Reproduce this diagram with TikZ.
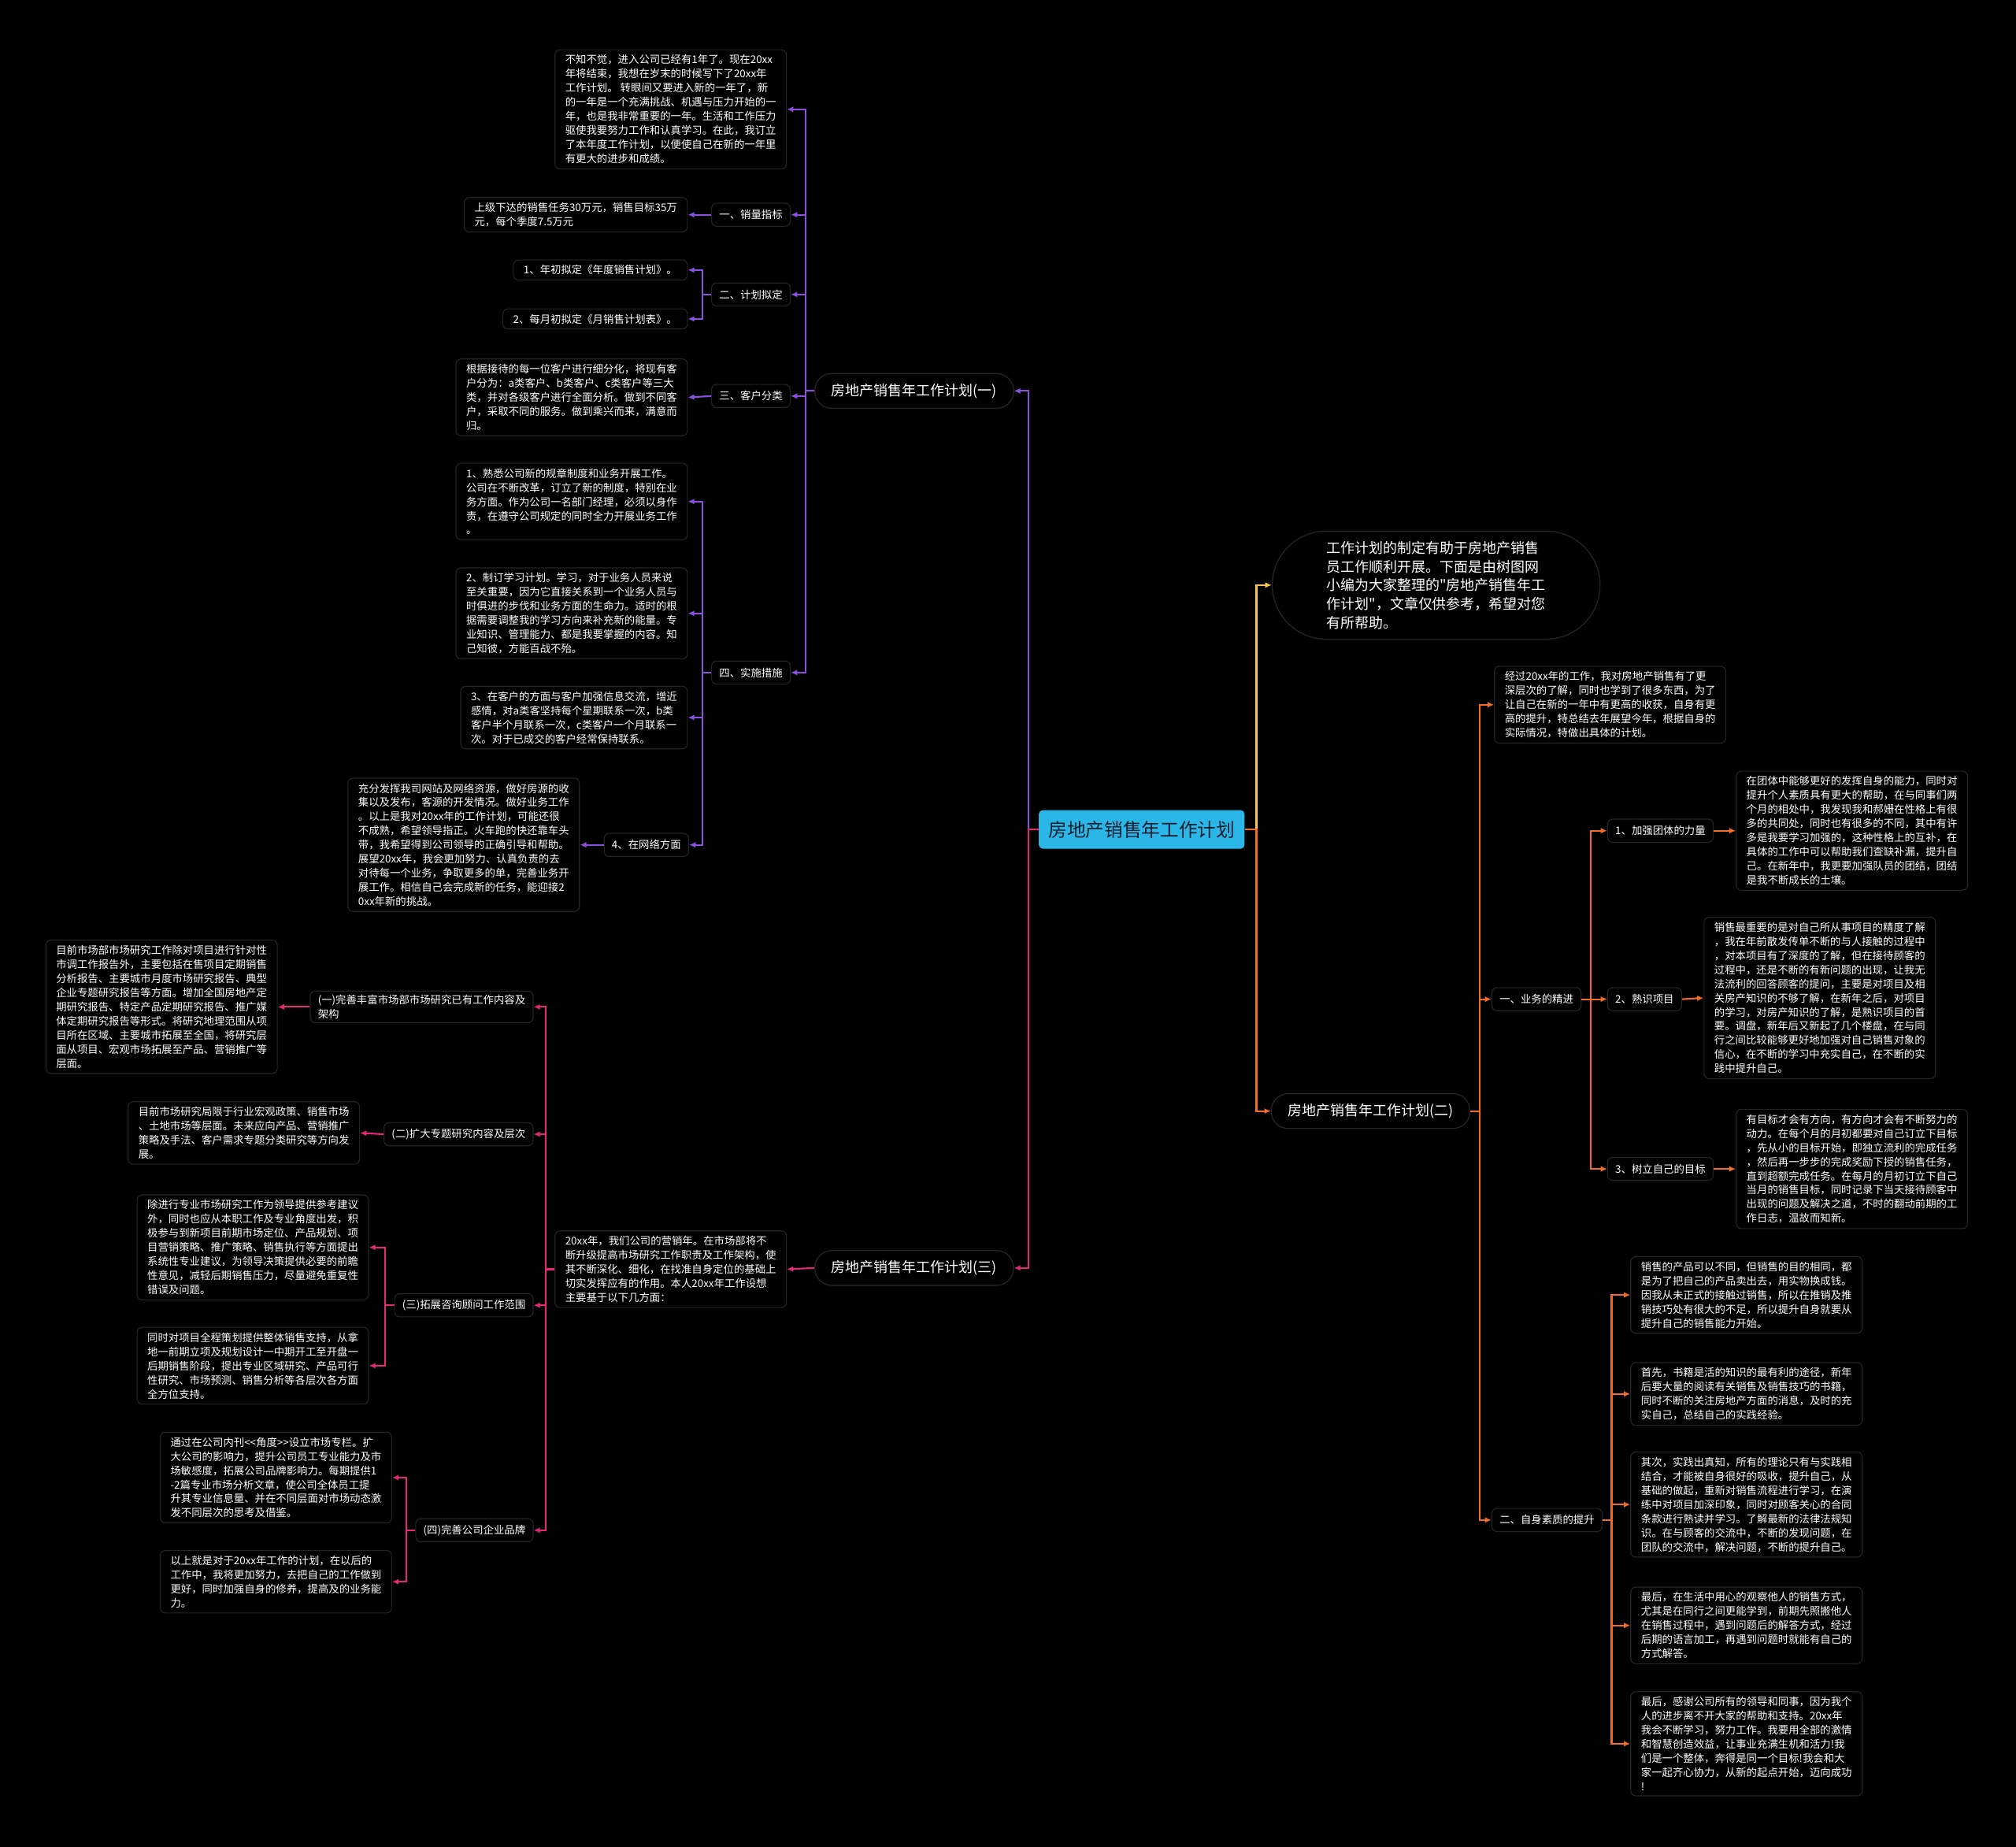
\documentclass[tikz,border=0pt]{standalone}
\usepackage{fontspec}
\setmainfont{Noto Sans CJK SC}
\newfontfamily\rawfont{Noto Sans CJK SC}[Ligatures=TeXOff]
\usetikzlibrary{arrows.meta}
\definecolor{bgc}{RGB}{0,0,0}
\definecolor{bord}{RGB}{36,36,36}
\definecolor{purc}{RGB}{140,80,225}
\definecolor{pinkc}{RGB}{228,40,118}
\definecolor{yelc}{RGB}{245,200,80}
\definecolor{orac}{RGB}{242,108,40}
\definecolor{rootc}{RGB}{43,182,232}
\definecolor{roottext}{RGB}{20,30,45}
\begin{document}
\begin{tikzpicture}[x=1pt,y=-1pt,
  txt/.style={draw=bord,fill=black,rounded corners=4pt,text=white,align=left,
    font=\fontsize{8.2}{11}\selectfont,inner xsep=8pt,inner ysep=4pt,line width=0.7pt},
  lbl/.style={draw=bord,fill=black,rounded corners=4pt,text=white,align=left,
    font=\fontsize{8.2}{11}\selectfont,inner xsep=6pt,inner ysep=3pt,minimum height=18pt,line width=0.7pt},
  branch/.style={draw=bord,fill=black,rounded corners=13pt,text=white,
    font=\fontsize{11}{13}\selectfont,inner xsep=13pt,minimum height=27pt,line width=0.8pt},
  rootbox/.style={fill=rootc,rounded corners=3pt,text=roottext,
    font=\fontsize{14.5}{17}\selectfont,minimum width=160pt,minimum height=30pt},
  introbox/.style={draw=bord,fill=black,rounded corners=42pt,text=white,align=left,
    font=\rawfont\fontsize{11}{14.5}\selectfont,minimum width=255pt,minimum height=84pt,line width=0.8pt},
  con/.style={line width=1.3pt,-{Latex[length=5pt,width=4.5pt]}},
  pur/.style={con,draw=purc},
  pnk/.style={con,draw=pinkc},
  yel/.style={con,draw=yelc},
  ora/.style={con,draw=orac}
]
\path[fill=bgc] (0,0) rectangle (1568,1436);

% root
\node[rootbox] (root) at (888,645) {房地产销售年工作计划};

% ===== branch (一) =====
\node[branch] (b1) at (711,304) {房地产销售年工作计划(一)};
\node[txt,anchor=east] (a1) at (612,85) {不知不觉，进入公司已经有1年了。现在20xx\\年将结束，我想在岁末的时候写下了20xx年\\工作计划。 转眼间又要进入新的一年了，新\\的一年是一个充满挑战、机遇与压力开始的一\\年，也是我非常重要的一年。生活和工作压力\\驱使我要努力工作和认真学习。在此，我订立\\了本年度工作计划，以便使自己在新的一年里\\有更大的进步和成绩。};
\node[lbl,anchor=east] (l1) at (615,167) {一、销量指标};
\node[txt,anchor=east] (t1) at (535,167) {上级下达的销售任务30万元，销售目标35万\\元，每个季度7.5万元};
\node[lbl,anchor=east] (l2) at (615,229) {二、计划拟定};
\node[txt,anchor=east] (t2a) at (535,210) {1、年初拟定《年度销售计划》。};
\node[txt,anchor=east] (t2b) at (535,248) {2、每月初拟定《月销售计划表》。};
\node[lbl,anchor=east] (l3) at (615,308) {三、客户分类};
\node[txt,anchor=east] (t3) at (535,309) {根据接待的每一位客户进行细分化，将现有客\\户分为：a类客户、b类客户、c类客户等三大\\类，并对各级客户进行全面分析。做到不同客\\户，采取不同的服务。做到乘兴而来，满意而\\归。};
\node[lbl,anchor=east] (l4) at (615,523) {四、实施措施};
\node[txt,anchor=east] (t4a) at (535,390) {1、熟悉公司新的规章制度和业务开展工作。\\公司在不断改革，订立了新的制度，特别在业\\务方面。作为公司一名部门经理，必须以身作\\责，在遵守公司规定的同时全力开展业务工作\\。};
\node[txt,anchor=east] (t4b) at (535,477) {2、制订学习计划。学习，对于业务人员来说\\至关重要，因为它直接关系到一个业务人员与\\时俱进的步伐和业务方面的生命力。适时的根\\据需要调整我的学习方向来补充新的能量。专\\业知识、管理能力、都是我要掌握的内容。知\\己知彼，方能百战不殆。};
\node[txt,anchor=east] (t4c) at (535,558) {3、在客户的方面与客户加强信息交流，增近\\感情，对a类客坚持每个星期联系一次，b类\\客户半个月联系一次，c类客户一个月联系一\\次。对于已成交的客户经常保持联系。};
\node[lbl,anchor=east] (l44) at (536,657) {4、在网络方面};
\node[txt,anchor=east] (t44) at (451,657) {充分发挥我司网站及网络资源，做好房源的收\\集以及发布，客源的开发情况。做好业务工作\\。以上是我对20xx年的工作计划，可能还很\\不成熟，希望领导指正。火车跑的快还靠车头\\带，我希望得到公司领导的正确引导和帮助。\\展望20xx年，我会更加努力、认真负责的去\\对待每一个业务，争取更多的单，完善业务开\\展工作。相信自己会完成新的任务，能迎接2\\0xx年新的挑战。};

\draw[pur] (root.west) -- ++(-8,0) |- (b1.east);
\foreach \c in {a1,l1,l2,l3,l4} \draw[pur] (b1.west) -- ++(-7,0) |- (\c.east);
\draw[pur] (l1.west) -- (t1.east);
\foreach \c in {t2a,t2b} \draw[pur] (l2.west) -- ++(-7,0) |- (\c.east);
\draw[pur] (l3.west) -- (t3.east);
\foreach \c in {t4a,t4b,t4c,l44} \draw[pur] (l4.west) -- ++(-7,0) |- (\c.east);
\draw[pur] (l44.west) -- (t44.east);

% ===== branch (三) =====
\node[branch] (b3) at (711,986) {房地产销售年工作计划(三)};
\node[txt,anchor=east] (p3) at (612,987) {20xx年，我们公司的营销年。在市场部将不\\断升级提高市场研究工作职责及工作架构，使\\其不断深化、细化，在找准自身定位的基础上\\切实发挥应有的作用。本人20xx年工作设想\\主要基于以下几方面：};
\node[lbl,anchor=east] (q1) at (415,783) {(一)完善丰富市场部市场研究已有工作内容及\\架构};
\node[txt,anchor=east] (r1) at (216,783) {目前市场部市场研究工作除对项目进行针对性\\市调工作报告外，主要包括在售项目定期销售\\分析报告、主要城市月度市场研究报告、典型\\企业专题研究报告等方面。增加全国房地产定\\期研究报告、特定产品定期研究报告、推广媒\\体定期研究报告等形式。将研究地理范围从项\\目所在区域、主要城市拓展至全国，将研究层\\面从项目、宏观市场拓展至产品、营销推广等\\层面。};
\node[lbl,anchor=east] (q2) at (415,882) {(二)扩大专题研究内容及层次};
\node[txt,anchor=east] (r2) at (280,881) {目前市场研究局限于行业宏观政策、销售市场\\、土地市场等层面。未来应向产品、营销推广\\策略及手法、客户需求专题分类研究等方向发\\展。};
\node[lbl,anchor=east] (q3) at (415,1015) {(三)拓展咨询顾问工作范围};
\node[txt,anchor=east] (r3a) at (287,970) {除进行专业市场研究工作为领导提供参考建议\\外，同时也应从本职工作及专业角度出发，积\\极参与到新项目前期市场定位、产品规划、项\\目营销策略、推广策略、销售执行等方面提出\\系统性专业建议，为领导决策提供必要的前瞻\\性意见，减轻后期销售压力，尽量避免重复性\\错误及问题。};
\node[txt,anchor=east] (r3b) at (287,1062) {同时对项目全程策划提供整体销售支持，从拿\\地一前期立项及规划设计一中期开工至开盘一\\后期销售阶段，提出专业区域研究、产品可行\\性研究、市场预测、销售分析等各层次各方面\\全方位支持。};
\node[lbl,anchor=east] (q4) at (415,1190) {(四)完善公司企业品牌};
\node[txt,anchor=east] (r4a) at (305,1149) {通过在公司内刊<{}<角度>{}>设立市场专栏。扩\\大公司的影响力，提升公司员工专业能力及市\\场敏感度，拓展公司品牌影响力。每期提供1\\-2篇专业市场分析文章，使公司全体员工提\\升其专业信息量、并在不同层面对市场动态激\\发不同层次的思考及借鉴。};
\node[txt,anchor=east] (r4b) at (305,1230) {以上就是对于20xx年工作的计划，在以后的\\工作中，我将更加努力，去把自己的工作做到\\更好，同时加强自身的修养，提高及的业务能\\力。};

\draw[pnk] (root.west) -- ++(-8,0) |- (b3.east);
\draw[pnk] (b3.west) -- (p3.east);
\foreach \c in {q1,q2,q3,q4} \draw[pnk] (p3.west) -- ++(-7,0) |- (\c.east);
\draw[pnk] (q1.west) -- (r1.east);
\draw[pnk] (q2.west) -- (r2.east);
\foreach \c in {r3a,r3b} \draw[pnk] (q3.west) -- ++(-7,0) |- (\c.east);
\foreach \c in {r4a,r4b} \draw[pnk] (q4.west) -- ++(-7,0) |- (\c.east);

% ===== right side =====
\node[introbox] (intro) at (1117,455) {工作计划的制定有助于房地产销售\\员工作顺利开展。下面是由树图网\\小编为大家整理的"房地产销售年工\\作计划"，文章仅供参考，希望对您\\有所帮助。};
\draw[yel] (root.east) -- ++(9,0) |- (intro.west);

\node[branch] (b2) at (1066,864) {房地产销售年工作计划(二)};
\draw[ora] (root.east) -- ++(9,0) |- (b2.west);

\node[txt,anchor=west] (s0) at (1162,548) {经过20xx年的工作，我对房地产销售有了更\\深层次的了解，同时也学到了很多东西，为了\\让自己在新的一年中有更高的收获，自身有更\\高的提升，特总结去年展望今年，根据自身的\\实际情况，特做出具体的计划。};
\node[lbl,anchor=west] (m1) at (1160,777) {一、业务的精进};
\node[lbl,anchor=west] (n1) at (1250,646) {1、加强团体的力量};
\node[txt,anchor=west] (o1) at (1350,646) {在团体中能够更好的发挥自身的能力，同时对\\提升个人素质具有更大的帮助，在与同事们两\\个月的相处中，我发现我和郝姗在性格上有很\\多的共同处，同时也有很多的不同，其中有许\\多是我要学习加强的，这种性格上的互补，在\\具体的工作中可以帮助我们查缺补漏，提升自\\己。在新年中，我更要加强队员的团结，团结\\是我不断成长的土壤。};
\node[lbl,anchor=west] (n2) at (1250,777) {2、熟识项目};
\node[txt,anchor=west] (o2) at (1325,776) {销售最重要的是对自己所从事项目的精度了解\\，我在年前散发传单不断的与人接触的过程中\\，对本项目有了深度的了解，但在接待顾客的\\过程中，还是不断的有新问题的出现，让我无\\法流利的回答顾客的提问，主要是对项目及相\\关房产知识的不够了解，在新年之后，对项目\\的学习，对房产知识的了解，是熟识项目的首\\要。调盘，新年后又新起了几个楼盘，在与同\\行之间比较能够更好地加强对自己销售对象的\\信心，在不断的学习中充实自己，在不断的实\\践中提升自己。};
\node[lbl,anchor=west] (n3) at (1250,909) {3、树立自己的目标};
\node[txt,anchor=west] (o3) at (1350,909) {有目标才会有方向，有方向才会有不断努力的\\动力。在每个月的月初都要对自己订立下目标\\，先从小的目标开始，即独立流利的完成任务\\，然后再一步步的完成奖励下授的销售任务，\\直到超额完成任务。在每月的月初订立下自己\\当月的销售目标，同时记录下当天接待顾客中\\出现的问题及解决之道，不时的翻动前期的工\\作日志，温故而知新。};
\node[lbl,anchor=west] (m2) at (1160,1182) {二、自身素质的提升};
\node[txt,anchor=west] (v1) at (1268,1007) {销售的产品可以不同，但销售的目的相同，都\\是为了把自己的产品卖出去，用实物换成钱。\\因我从未正式的接触过销售，所以在推销及推\\销技巧处有很大的不足，所以提升自身就要从\\提升自己的销售能力开始。};
\node[txt,anchor=west] (v2) at (1268,1084) {首先，书籍是活的知识的最有利的途径，新年\\后要大量的阅读有关销售及销售技巧的书籍，\\同时不断的关注房地产方面的消息，及时的充\\实自己，总结自己的实践经验。};
\node[txt,anchor=west] (v3) at (1268,1170) {其次，实践出真知，所有的理论只有与实践相\\结合，才能被自身很好的吸收，提升自己，从\\基础的做起，重新对销售流程进行学习，在演\\练中对项目加深印象，同时对顾客关心的合同\\条款进行熟读并学习。了解最新的法律法规知\\识。在与顾客的交流中，不断的发现问题，在\\团队的交流中，解决问题，不断的提升自己。};
\node[txt,anchor=west] (v4) at (1268,1264) {最后，在生活中用心的观察他人的销售方式，\\尤其是在同行之间更能学到，前期先照搬他人\\在销售过程中，遇到问题后的解答方式，经过\\后期的语言加工，再遇到问题时就能有自己的\\方式解答。};
\node[txt,anchor=west] (v5) at (1268,1356) {最后，感谢公司所有的领导和同事，因为我个\\人的进步离不开大家的帮助和支持。20xx年\\我会不断学习，努力工作。我要用全部的激情\\和智慧创造效益，让事业充满生机和活力!我\\们是一个整体，奔得是同一个目标!我会和大\\家一起齐心协力，从新的起点开始，迈向成功\\!};

\foreach \c in {s0,m1,m2} \draw[ora] (b2.east) -- ++(7,0) |- (\c.west);
\foreach \c in {n1,n2,n3} \draw[ora] (m1.east) -- ++(7,0) |- (\c.west);
\draw[ora] (n1.east) -- (o1.west);
\draw[ora] (n2.east) -- (o2.west);
\draw[ora] (n3.east) -- (o3.west);
\foreach \c in {v1,v2,v3,v4,v5} \draw[ora] (m2.east) -- ++(7,0) |- (\c.west);
\end{tikzpicture}
\end{document}
